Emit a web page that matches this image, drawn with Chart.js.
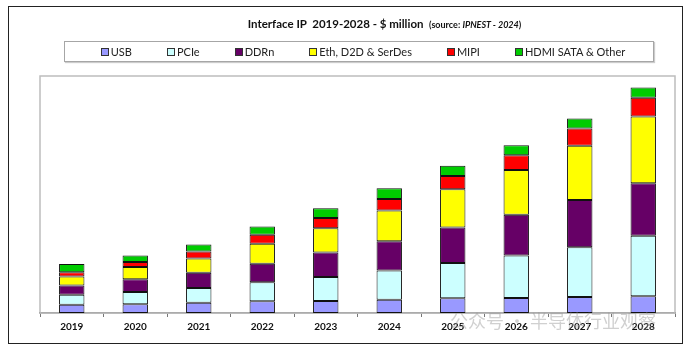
<!DOCTYPE html>
<html>
<head>
<meta charset="utf-8">
<script src="https://cdn.jsdelivr.net/npm/chart.js@4/dist/chart.umd.min.js"></script>
<style>
  html, body { margin: 0; padding: 0; background: #fff; }
  #wrap { position: relative; width: 687px; height: 351px; overflow: hidden; background: #fff; }
  #frame { position: absolute; left: 8px; top: 6px; width: 675px; height: 338px; border: 1.5px solid #222; box-sizing: border-box; }
  #title { position: absolute; left: 0; width: 687px; top: 17px; text-align: center; font-family: Lato, sans-serif; font-weight: bold; font-size: 11.5px; color: #111; white-space: pre; padding-left: 82px; box-sizing: border-box; }
  #title .src { font-size: 9px; }
  #legend { position: absolute; left: 64px; top: 41px; width: 590px; height: 21px; border: 1px solid #a6a6a6; box-sizing: border-box; display: flex; align-items: center; justify-content: center; gap: 35px; padding-left: 8px; font-family: Lato, sans-serif; font-size: 11px; color: #222; box-shadow: 1px 1px 1px #ccc; }
  .item { display: flex; align-items: center; white-space: nowrap; }
  .sw { width: 6px; height: 6px; border: 1px solid #333; margin-right: 2px; }
  #chart { position: absolute; left: 0; top: 0; }
  #wm { position: absolute; left: 450px; top: 307px; font-family: "Noto Sans CJK SC", sans-serif; font-size: 18px; color: rgba(150,150,150,0.45); white-space: pre; }
</style>
</head>
<body>
<div id="wrap">
  <canvas id="chart" width="687" height="351"></canvas>
  <div id="frame"></div>
  <div id="title">Interface IP  2019-2028 - $ million  <span class="src">(source: <i>IPNEST - 2024</i>)</span></div>
  <div id="legend"></div>
  <div id="wm">公众号 · 半导体行业观察</div>
</div>
<script>
const years = ['2019','2020','2021','2022','2023','2024','2025','2026','2027','2028'];
const seriesNames = ['USB','PCIe','DDRn','Eth, D2D & SerDes','MIPI','HDMI SATA & Other'];
const usb  = [166,174,206,234,240,266,294,300,320,334];
const pcie = [200,246,294,380,480,586,706,854,1000,1214];
const ddrn = [186,254,306,374,494,586,714,814,946,1054];
const eth  = [180,246,286,400,486,614,766,900,1086,1334];
const mipi = [86,100,140,180,206,234,266,294,346,380];
const hdmi = [166,134,140,166,194,214,206,200,200,206];
const colors = ['#9999FF','#CCFFFF','#660066','#FFFF00','#FF0000','#00CC00'];
const seriesData = [usb, pcie, ddrn, eth, mipi, hdmi];

const legend = document.getElementById('legend');
seriesNames.forEach((n, i) => {
  const it = document.createElement('div'); it.className = 'item';
  const sw = document.createElement('div'); sw.className = 'sw'; sw.style.background = colors[i];
  const tx = document.createElement('span'); tx.textContent = n;
  it.appendChild(sw); it.appendChild(tx); legend.appendChild(it);
});

const framePlugin = {
  id: 'plotFrame',
  beforeDatasetsDraw(chart) {
    const a = chart.chartArea, ctx = chart.ctx;
    ctx.save();
    ctx.strokeStyle = '#bdbdbd';
    ctx.lineWidth = 1.5;
    ctx.strokeRect(a.left, a.top, a.right - a.left, a.bottom - a.top);
    ctx.restore();
  }
};

new Chart(document.getElementById('chart'), {
  type: 'bar',
  data: {
    labels: years,
    datasets: seriesNames.map((n, i) => ({
      label: n,
      data: seriesData[i],
      backgroundColor: colors[i],
      borderColor: '#111',
      borderWidth: 1,
      borderSkipped: false,
      barPercentage: 0.4,
      categoryPercentage: 1.0
    }))
  },
  options: {
    responsive: false,
    animation: false,
    layout: { padding: { left: 40, right: 12, top: 76, bottom: 14 } },
    plugins: { legend: { display: false }, title: { display: false }, tooltip: { enabled: false } },
    scales: {
      x: {
        stacked: true,
        grid: { display: true, offset: true, drawOnChartArea: false, drawTicks: true, tickLength: 4, color: '#777', lineWidth: 1 },
        border: { display: true, color: '#777', width: 1.5 },
        ticks: { color: '#111', font: { family: 'Lato', weight: 'bold', size: 10 }, padding: 4, maxRotation: 0 }
      },
      y: { stacked: true, display: false, min: 0, max: 4750 }
    }
  },
  plugins: [framePlugin]
});
</script>
</body>
</html>
